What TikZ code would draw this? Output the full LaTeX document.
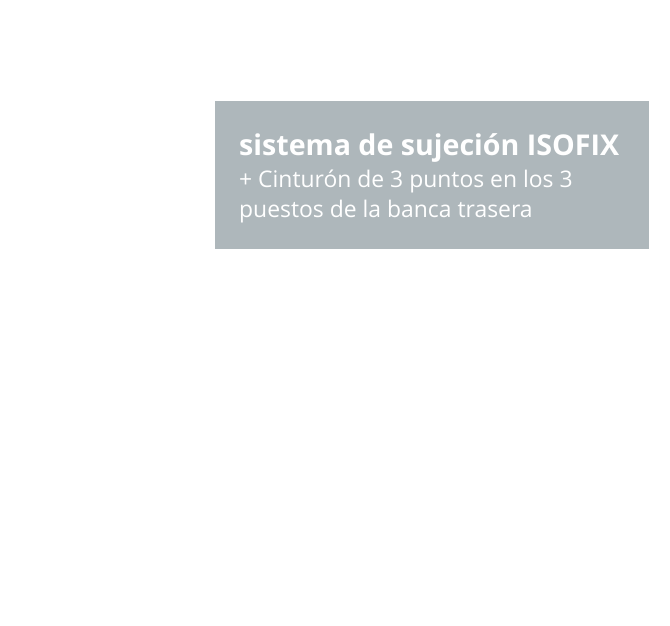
\documentclass[tikz,border=0pt]{standalone}
\usepackage{fontspec}
\setmainfont{Open Sans}
\definecolor{boxgrey}{RGB}{174,183,187}
\begin{document}
\begin{tikzpicture}[x=1pt,y=-1pt,
  txt/.style={text=white,inner sep=0pt,anchor=base west},
  titletxt/.style={txt,font=\fontsize{28.6}{30}\selectfont\bfseries},
  bodytxt/.style={txt,font=\fontsize{22.9}{30}\selectfont}]
\useasboundingbox (0,0) rectangle (670,625);
\fill[white] (0,0) rectangle (670,625);
\node[fill=boxgrey,inner sep=0pt,minimum width=434pt,minimum height=148pt,anchor=north west] (box) at (215,101) {};
\node[titletxt] (t1) at (239,155) {sistema de sujeción ISOFIX};
\node[bodytxt] (t2) at (239,187) {+ Cinturón de 3 puntos en los 3};
\node[bodytxt] (t3) at (239,217.5) {puestos de la banca trasera};
\end{tikzpicture}
\end{document}
